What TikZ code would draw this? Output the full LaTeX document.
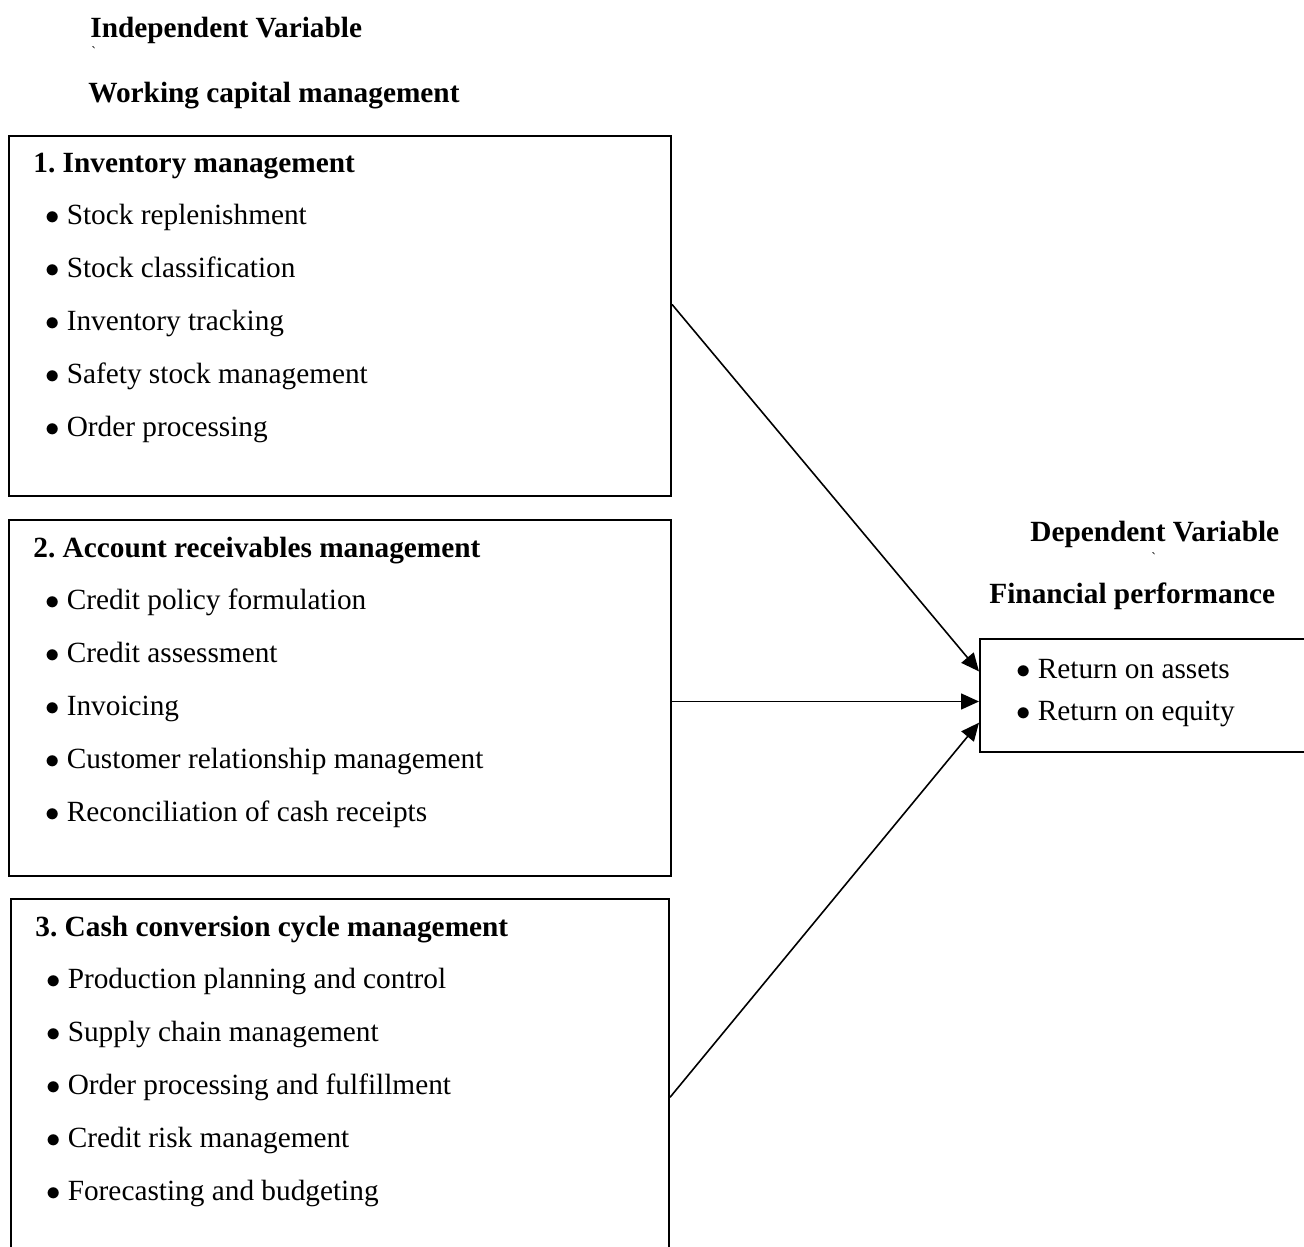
\documentclass[tikz,border=0pt]{standalone}
\usepackage{fontspec}
\setmainfont{Liberation Serif}
\usetikzlibrary{arrows.meta}

\begin{document}
\fontsize{14.65pt}{17pt}\selectfont\frenchspacing
\begin{tikzpicture}[x=0.5pt,y=-0.5pt]
	\useasboundingbox (0,0) rectangle (1304,1246);
	\clip (0,0) rectangle (1304,1246);

	\begin{scope}[every node/.style={rectangle,draw,line width=1pt,anchor=north west,inner sep=0pt}]
		\node[minimum width=331pt,minimum height=180pt] (invbox) at (8,135) {};
		\node[minimum width=331pt,minimum height=178pt] (recbox) at (8,519) {};
		\node[minimum width=329pt,minimum height=181pt] (cccbox) at (10,898) {};
		\node[minimum width=170.5pt,minimum height=56.5pt] (fpbox) at (979,638) {};
	\end{scope}

	\begin{scope}[every node/.style={anchor=base west,inner sep=0pt}]
		% independent side
		\node[font=\bfseries] (iv) at (90,38) {Independent Variable};
		\node[font=\fontsize{7pt}{8pt}\selectfont] (tick1) at (91,57) {\textasciigrave};
		\node[font=\bfseries] (wcm) at (88,103) {Working capital management};

		\node[font=\bfseries] (invt) at (33,173) {1. Inventory management};
		\foreach \t [count=\i] in {Stock replenishment, Stock classification, Inventory tracking, Safety stock management, Order processing}
			\node (inv\i) at (45,171+53*\i) {$\bullet$\hspace{3.5pt}\t};

		\node[font=\bfseries] (rect) at (33,557) {2. Account receivables management};
		\foreach \t [count=\i] in {Credit policy formulation, Credit assessment, Invoicing, Customer relationship management, Reconciliation of cash receipts}
			\node (rec\i) at (45,556+53*\i) {$\bullet$\hspace{3.5pt}\t};

		\node[font=\bfseries] (ccct) at (35,936) {3. Cash conversion cycle management};
		\foreach \t [count=\i] in {Production planning and control, Supply chain management, Order processing and fulfillment, Credit risk management, Forecasting and budgeting}
			\node (ccc\i) at (46,935+53*\i) {$\bullet$\hspace{3.5pt}\t};

		% dependent side
		\node[font=\bfseries] (dv) at (1030,541) {Dependent Variable};
		\node[font=\fontsize{7pt}{8pt}\selectfont] (tick2) at (1151,562) {\textasciigrave};
		\node[font=\bfseries] (fpt) at (989,603) {Financial performance};
		\node (fp1) at (1016,678) {$\bullet$\hspace{3.5pt}Return on assets};
		\node (fp2) at (1016,720) {$\bullet$\hspace{3.5pt}Return on equity};
	\end{scope}

	\begin{scope}[>={Triangle[length=9pt,width=8pt]},
	              every edge/.style={draw=black,line width=0.8pt},
	              every path/.style={->}]
		\path (invbox.2.1) edge (fpbox.172.8);
		\path (recbox.east |- fpbox.182.5) edge (fpbox.182.5);
		\path (cccbox.-3.3) edge (fpbox.189.5);
	\end{scope}
\end{tikzpicture}
\end{document}
